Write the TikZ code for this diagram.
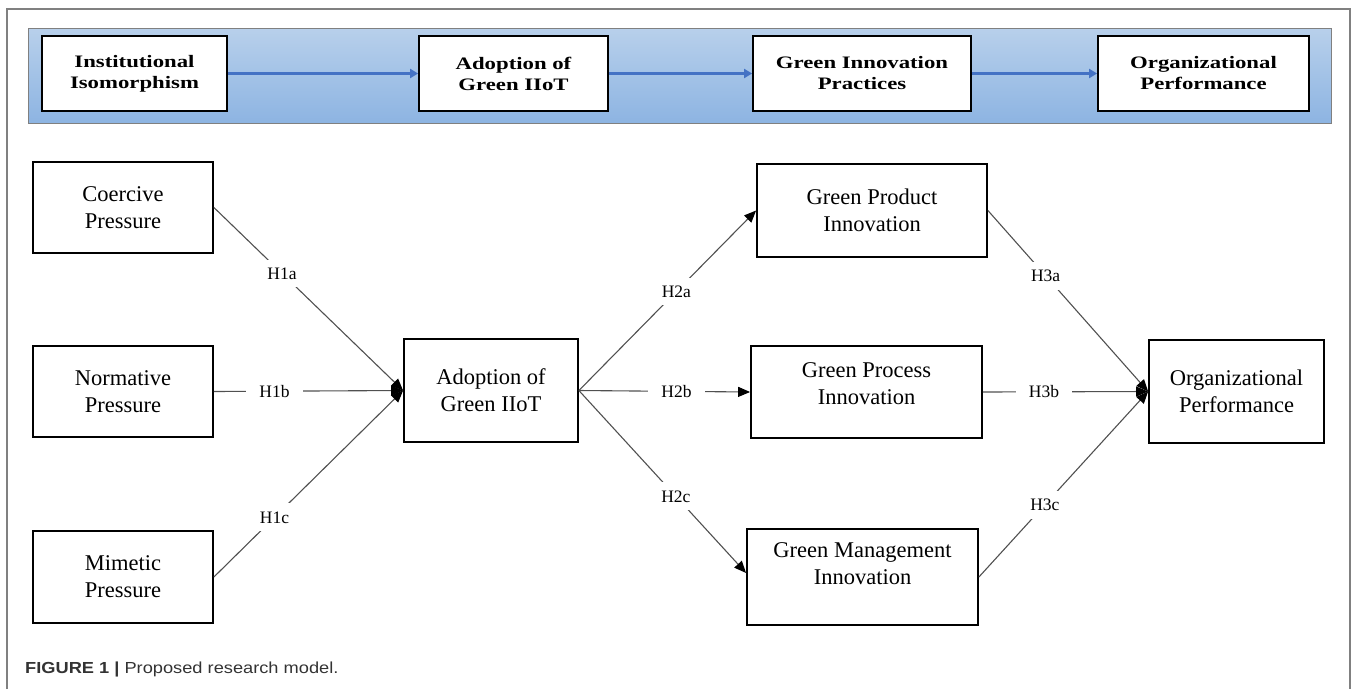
\documentclass[tikz,border=0pt]{standalone}
\usepackage{fontspec}
\setmainfont{Liberation Serif}
\newfontfamily\capfont[FakeStretch=1.14]{Liberation Sans}
\newfontfamily\bandfont[FakeStretch=1.3]{Liberation Serif}
\usetikzlibrary{arrows.meta}
\definecolor{framegray}{HTML}{808080}
\definecolor{bandtop}{HTML}{B8D0EB}
\definecolor{bandbot}{HTML}{8DB4E2}
\definecolor{bluearrow}{HTML}{4472C4}
\definecolor{conngray}{HTML}{505050}
\definecolor{captxt}{HTML}{333333}
\begin{document}
\begin{tikzpicture}[x=1pt,y=-1pt,
  topbox/.style={draw=black, line width=1.8pt, fill=white, minimum height=75pt,
    inner sep=0pt, align=center, font=\bandfont\bfseries\fontsize{17.5}{21}\selectfont},
  mbox/.style={draw=black, line width=1.8pt, fill=white, inner sep=0pt, align=center,
    font=\fontsize{22.5}{27}\selectfont},
  conn/.style={draw=conngray, line width=1.1pt},
  arr/.style={conn, -{Triangle[length=12pt,width=10pt,color=black]}},
  hlab/.style={fill=white, inner xsep=6pt, inner ysep=8pt, font=\fontsize{17.5}{20}\selectfont},
  hlabh/.style={hlab, inner xsep=13pt},
  blarr/.style={draw=bluearrow, line width=2.2pt, -{Triangle[length=8pt,width=9pt]}}
]
\useasboundingbox (0,0) rectangle (1357,689);
% outer frame
\draw[framegray, line width=1.5pt] (7,689) -- (7,9) -- (1350,9) -- (1350,689);
% blue band
\shade[top color=bandtop, bottom color=bandbot] (28,28) rectangle (1331,123);
\draw[framegray, line width=1pt] (28,28) rectangle (1331,123);
% top boxes
\node[topbox, minimum width=185pt] (inst) at (134.5,73.5) {Institutional\\Isomorphism};
\node[topbox, minimum width=189pt] (adtop) at (513.5,73.5) {Adoption of\\Green IIoT};
\node[topbox, minimum width=218pt] (gitop) at (862,73.5) {Green Innovation\\Practices};
\node[topbox, minimum width=211pt] (optop) at (1203.5,73.5) {Organizational\\Performance};
\draw[blarr] (inst) -- (adtop);
\draw[blarr] (adtop) -- (gitop);
\draw[blarr] (gitop) -- (optop);
% main boxes
\node[mbox, minimum width=180pt, minimum height=91pt] (coer) at (123,207.5) {Coercive\\Pressure};
\node[mbox, minimum width=180pt, minimum height=91pt] (norm) at (123,391.5) {Normative\\Pressure};
\node[mbox, minimum width=180pt, minimum height=92pt] (mim) at (123,577) {Mimetic\\Pressure};
\node[mbox, minimum width=174pt, minimum height=103pt] (adopt) at (491,390.5) {Adoption of\\Green IIoT};
\node[mbox, minimum width=230pt, minimum height=93pt] (prod) at (872,210.5) {Green Product\\Innovation};
\node[mbox, minimum width=231pt, minimum height=92pt] (proc) at (866.5,392) {};
\node[font=\fontsize{22.5}{27}\selectfont, align=center] (proct) at ([yshift=8pt]proc.center) {Green Process\\Innovation};
\node[mbox, minimum width=231pt, minimum height=96pt] (mgmt) at (862.5,577) {};
\node[font=\fontsize{22.5}{27}\selectfont, align=center] (mgmtt) at ([yshift=13pt]mgmt.center) {Green Management\\Innovation};
\node[mbox, minimum width=175pt, minimum height=103pt] (org) at (1236.5,391.5) {Organizational\\Performance};
% connectors
\draw[arr] (coer.east) -- node[hlab, pos=0.36] {H1a} (adopt.west);
\draw[arr] (norm.east) -- node[hlabh, pos=0.32] {H1b} (adopt.west);
\draw[arr] (mim.east) -- node[hlab, pos=0.32] {H1c} (adopt.west);
\draw[arr] (adopt.east) -- node[hlab, pos=0.55] {H2a} (prod.west);
\draw[arr] (adopt.east) -- node[hlabh, pos=0.57] {H2b} (proc.west);
\draw[arr] (adopt.east) -- node[hlab, pos=0.58] {H2c} ([yshift=4pt]mgmt.west);
\draw[arr] (prod.east) -- node[hlab, pos=0.36] {H3a} (org.west);
\draw[arr] (proc.east) -- node[hlabh, pos=0.37] {H3b} (org.west);
\draw[arr] (mgmt.east) -- node[hlab, pos=0.39] {H3c} (org.west);
% caption
\node[anchor=base west, inner sep=0pt, text=captxt, font=\capfont\fontsize{16}{19}\selectfont] (cap) at (25,673)
  {\textbf{FIGURE 1 |} Proposed research model.};
\end{tikzpicture}
\end{document}
